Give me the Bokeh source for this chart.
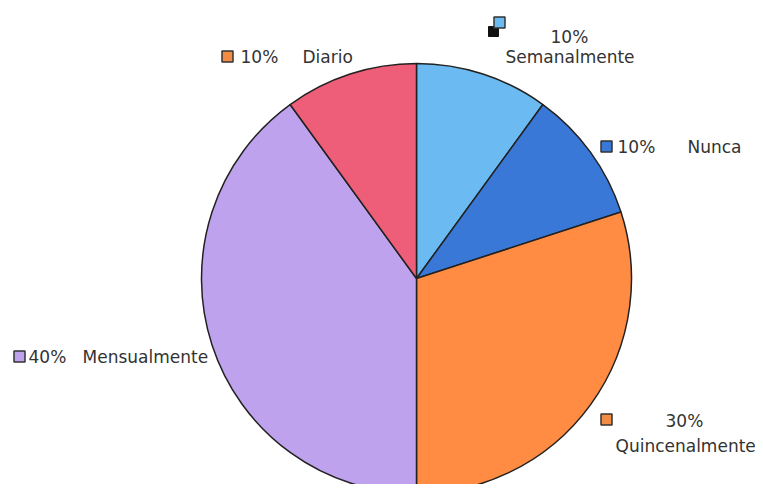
from bokeh.plotting import figure
from bokeh.models import Range1d, ColumnDataSource
from bokeh.core.properties import value
from bokeh.embed import file_html
from bokeh.resources import INLINE
import math

# ---- data ----
categories = ["Semanalmente", "Nunca", "Quincenalmente", "Mensualmente", "Diario"]
percents = [10, 10, 30, 40, 10]
slice_colors = ["#6BBBF2", "#3A78D8", "#FF8C42", "#BFA2EE", "#EE5E78"]
marker_colors = ["#6BBBF2", "#3A78D8", "#F28C45", "#BFA2EE", "#F28C45"]

W, H = 755, 484
OFF = 0  # page offset of the figure


def dx(sx):
    return sx - OFF


def dy(sy):
    return H + OFF - sy


p = figure(width=W, height=H, output_backend="svg", toolbar_location=None,
           x_range=Range1d(0, W), y_range=Range1d(0, H), min_border=0)
p.axis.visible = False
p.grid.visible = False
p.outline_line_color = None
p.background_fill_color = "white"
p.border_fill_color = "white"

# pie
cx, cy, r = dx(416), dy(278), 215
total = sum(percents)
starts, ends = [], []
a = math.pi / 2
for v in percents:
    starts.append(a)
    a -= v / total * 2 * math.pi
    ends.append(a)
src = ColumnDataSource(dict(start=starts, end=ends, color=slice_colors, cat=categories))
p.wedge(x=cx, y=cy, radius=r, start_angle="start", end_angle="end", direction="clock",
        fill_color="color", line_color="#222222", line_width=1.5, source=src)

# labels (screen positions of percent text, name text and marker)
pct_pos = [(550, 36), (617, 146), (665, 420), (28, 356), (240, 56)]
name_pos = [(505, 56), (687, 146), (615, 445), (82, 356), (302, 56)]
mark_pos = [(499, 22), (606, 146), (606, 419), (19, 356), (227, 56)]

font = value("DejaVu Sans")
p.text(x=[dx(x) for x, _ in pct_pos], y=[dy(y) for _, y in pct_pos],
       text=[f"{v}%" for v in percents], text_font=font, text_font_size="17px",
       text_color="#333333", text_align="left", text_baseline="middle")
p.text(x=[dx(x) for x, _ in name_pos], y=[dy(y) for _, y in name_pos],
       text=categories, text_font=font, text_font_size="17px",
       text_color="#333333", text_align="left", text_baseline="middle")

# extra black square beside the Semanalmente marker
p.scatter(x=[dx(493)], y=[dy(31)], marker="square", size=10,
          fill_color="#111111", line_color="#111111")
p.scatter(x=[dx(x) for x, _ in mark_pos], y=[dy(y) for _, y in mark_pos],
          marker="square", size=11, fill_color=marker_colors,
          line_color="#333333", line_width=1.5)

open("out.html", "w").write(file_html(p, INLINE))
